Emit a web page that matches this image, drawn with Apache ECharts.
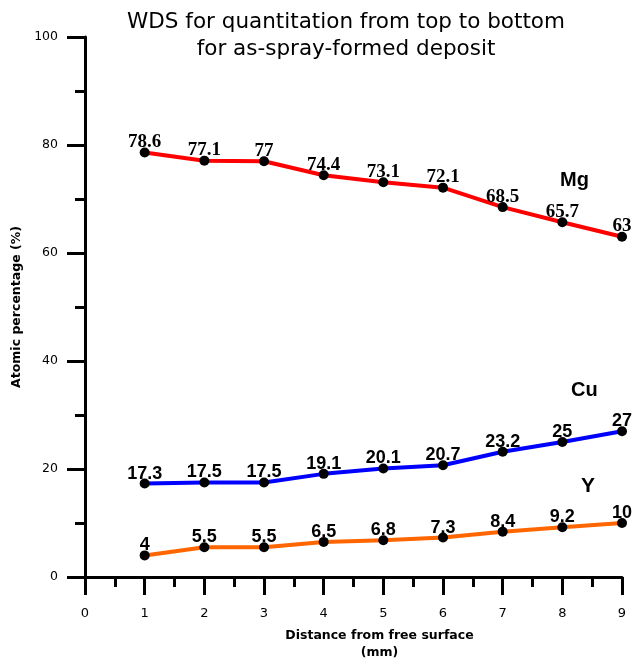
<!DOCTYPE html>
<html>
<head>
<meta charset="utf-8">
<script src="https://cdn.jsdelivr.net/npm/echarts@6/dist/echarts.min.js"></script>
<style>
  html, body { margin: 0; padding: 0; background: #fff; }
  #chart { width: 634px; height: 664px; }
</style>
</head>
<body>
<div id="chart"></div>
<script>
// distance from free surface (mm)
const distances = [1, 2, 3, 4, 5, 6, 7, 8, 9]
const mgValues = [78.6, 77.1, 77, 74.4, 73.1, 72.1, 68.5, 65.7, 63]
const cuValues = [17.3, 17.5, 17.5, 19.1, 20.1, 20.7, 23.2, 25, 27]
const yValues = [4, 5.5, 5.5, 6.5, 6.8, 7.3, 8.4, 9.2, 10]

const pairs = (vals) => distances.map((d, i) => [d, vals[i]])

const makeSeries = (name, vals, color, labelFont, labelSize) => ({
  name,
  type: 'line',
  data: pairs(vals),
  symbol: 'circle',
  symbolSize: 10,
  itemStyle: { color: '#000' },
  lineStyle: { color, width: 4 },
  label: {
    show: true,
    position: 'top',
    distance: -4,
    color: '#000',
    fontFamily: labelFont,
    fontWeight: 'bold',
    fontSize: labelSize
  },
  z: 3
})

const chart = echarts.init(document.getElementById('chart'))
const option = {
  animation: false,
  backgroundColor: '#fff',
  title: {
    text: 'WDS for quantitation from top to bottom\nfor as-spray-formed deposit',
    left: 341,
    top: 4,
    textAlign: 'center',
    textStyle: {
      fontFamily: 'DejaVu Sans',
      fontWeight: 'normal',
      fontSize: 21.5,
      lineHeight: 27,
      color: '#000'
    }
  },
  grid: { left: 85, right: 12, top: 37, bottom: 87, containLabel: false, outerBoundsMode: 'none' },
  xAxis: {
    type: 'value',
    min: 0,
    max: 9,
    interval: 1,
    name: 'Distance from free surface\n(mm)',
    nameLocation: 'middle',
    nameGap: 50,
    nameTextStyle: {
      fontFamily: 'DejaVu Sans',
      fontWeight: 'bold',
      fontSize: 12.5,
      lineHeight: 17,
      color: '#000',
      padding: [0, 0, 0, 52]
    },
    axisLine: { show: true, lineStyle: { color: '#000', width: 3 } },
    axisTick: { show: true, inside: false, length: 18, lineStyle: { color: '#000', width: 3 } },
    minorTick: { show: true, splitNumber: 2, length: 10, lineStyle: { color: '#000', width: 3 } },
    axisLabel: { margin: 30, fontFamily: 'DejaVu Sans', fontSize: 13, color: '#000' },
    splitLine: { show: false }
  },
  yAxis: {
    type: 'value',
    min: 0,
    max: 100,
    interval: 20,
    name: 'Atomic percentage (%)',
    nameLocation: 'middle',
    nameGap: 61,
    nameTextStyle: {
      fontFamily: 'DejaVu Sans',
      fontWeight: 'bold',
      fontSize: 12.5,
      color: '#000'
    },
    axisLine: { show: true, lineStyle: { color: '#000', width: 3 } },
    axisTick: { show: true, inside: false, length: 18, lineStyle: { color: '#000', width: 3 } },
    minorTick: { show: true, splitNumber: 2, length: 10, lineStyle: { color: '#000', width: 3 } },
    axisLabel: { margin: 27, fontFamily: 'DejaVu Sans', fontSize: 12.5, color: '#000' },
    splitLine: { show: false }
  },
  graphic: [
    { type: 'text', left: 560, top: 170, style: { text: 'Mg', font: 'bold 20px "Liberation Sans"', fill: '#000' } },
    { type: 'text', left: 571, top: 380, style: { text: 'Cu', font: 'bold 20px "Liberation Sans"', fill: '#000' } },
    { type: 'text', left: 581, top: 476, style: { text: 'Y', font: 'bold 21px "Liberation Sans"', fill: '#000' } }
  ],
  series: [
    makeSeries('Mg', mgValues, '#ff0000', 'Liberation Serif', 19),
    makeSeries('Cu', cuValues, '#0000ff', 'Liberation Sans', 18),
    makeSeries('Y', yValues, '#ff6600', 'Liberation Sans', 18)
  ]
}
chart.setOption(option)
</script>
</body>
</html>
